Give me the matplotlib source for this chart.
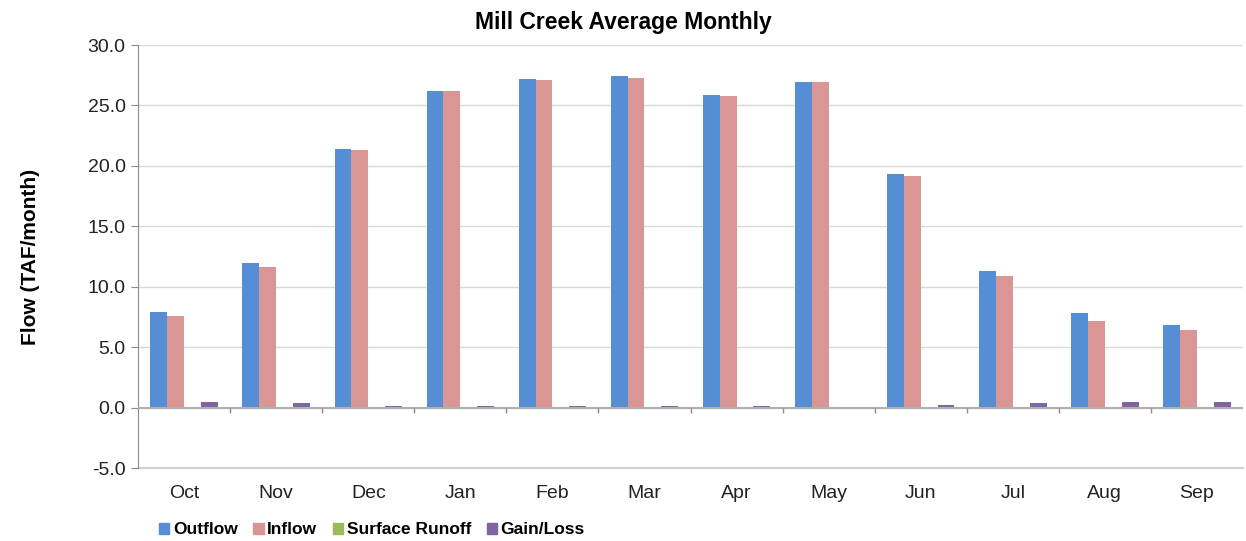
import numpy as np
import matplotlib.pyplot as plt
from matplotlib.patches import Patch

plt.rcParams['font.family'] = ['Liberation Sans', 'DejaVu Sans']

months = ['Oct', 'Nov', 'Dec', 'Jan', 'Feb', 'Mar', 'Apr', 'May', 'Jun', 'Jul', 'Aug', 'Sep']
outflow = [7.9, 12.0, 21.4, 26.2, 27.2, 27.4, 25.9, 26.9, 19.3, 11.3, 7.8, 6.8]
inflow = [7.6, 11.6, 21.3, 26.2, 27.1, 27.3, 25.8, 26.9, 19.2, 10.9, 7.2, 6.4]
surface_runoff = [0.0] * 12
gain_loss = [0.5, 0.4, 0.1, 0.1, 0.1, 0.1, 0.1, 0.0, 0.2, 0.4, 0.5, 0.5]

series = [('Outflow', outflow, '#558ED5'),
          ('Inflow', inflow, '#D99694'),
          ('Surface Runoff', surface_runoff, '#9BBB59'),
          ('Gain/Loss', gain_loss, '#8064A2')]

fig = plt.figure(figsize=(12.46, 5.41), dpi=100)
ax = fig.add_axes([0.1108, 0.1349, 0.8868, 0.7819])

x = np.arange(len(months))
w = 0.183
for i, (name, vals, col) in enumerate(series):
    ax.bar(x + (i - 1.5) * w, vals, width=w, color=col, zorder=3)

ax.set_xlim(-0.5, len(months) - 0.5)
ax.set_ylim(-5, 30)
ax.set_yticks(np.arange(-5, 31, 5))
ax.set_yticklabels([f'{v:.1f}' for v in np.arange(-5, 31, 5)], fontsize=14, color='#222222')
ax.yaxis.grid(True, color='#d9d9d9', linewidth=1, zorder=0)
ax.axhline(-5, color='#d0d0d0', linewidth=1.5, zorder=1, clip_on=False)

for s in ['top', 'right', 'bottom']:
    ax.spines[s].set_visible(False)
ax.spines['left'].set_color('#8c8c8c')
ax.tick_params(axis='y', length=5, color='#8c8c8c', pad=4)

ax.set_xticks(x)
ax.set_xticklabels(months, fontsize=14, color='#222222')
ax.tick_params(axis='x', length=0, pad=12)

# zero axis line with tick marks between categories
ax.axhline(0, color='#b0b0b0', linewidth=1.5, zorder=4)
bounds = np.arange(0.5, len(months) - 0.5, 1)
ax.vlines(bounds, -0.45, 0, color='#8c8c8c', linewidth=1, zorder=4)

ax.set_ylabel('Flow (TAF/month)', fontsize=15, fontweight='bold', labelpad=34)
fig.suptitle('Mill Creek Average Monthly', fontsize=16.5, fontweight='bold', x=0.5, y=0.98)

handles = [Patch(color=c, label=n) for n, _, c in series]
fig.legend(handles=handles, loc='lower left', bbox_to_anchor=(0.115, -0.022), ncol=4,
           frameon=False, prop={'size': 12.5, 'weight': 'bold'},
           handlelength=0.6, handleheight=0.6, handletextpad=0.2, columnspacing=0.9)

fig.savefig('out.png', dpi=100)
